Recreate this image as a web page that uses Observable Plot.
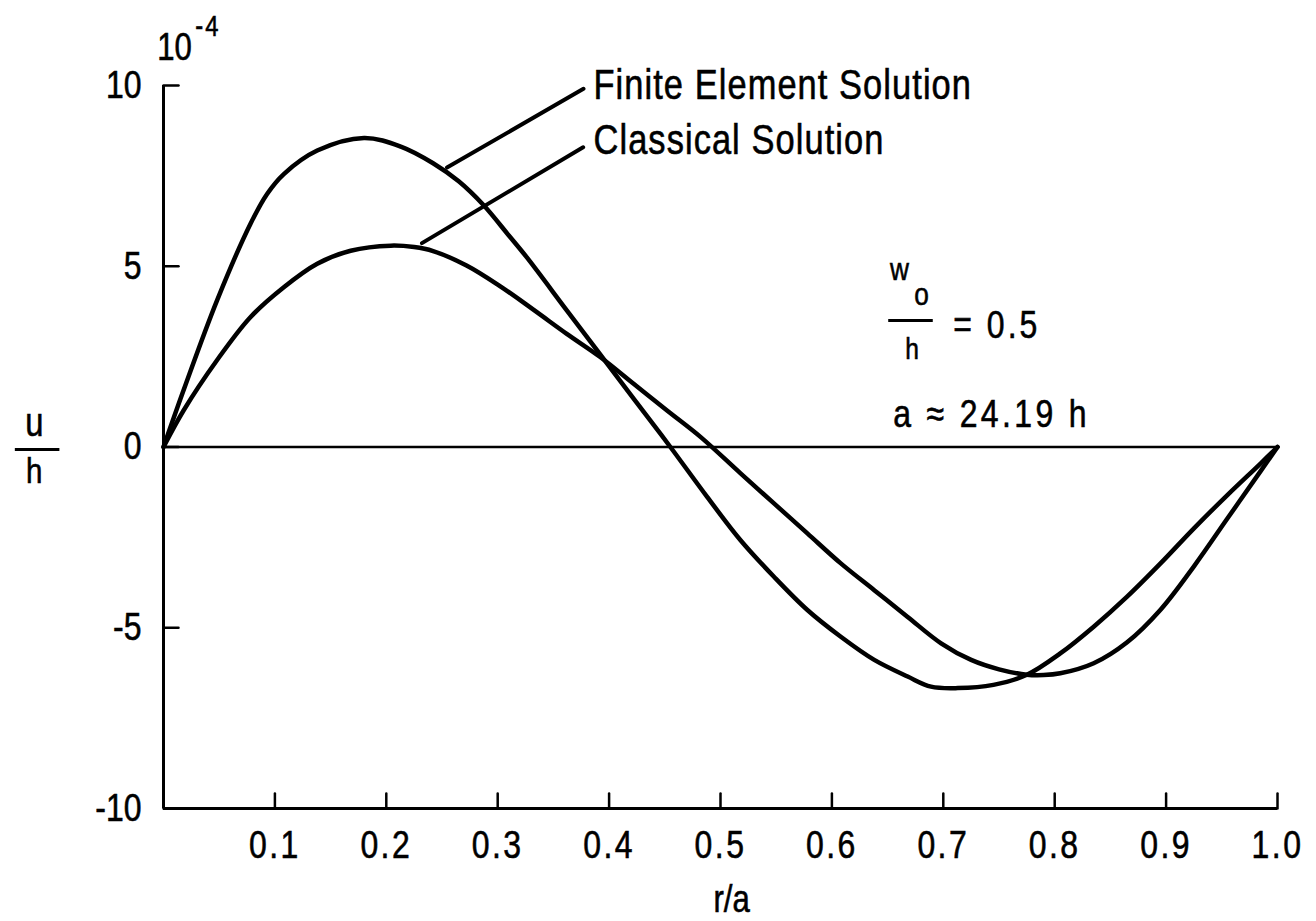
<!DOCTYPE html>
<html>
<head>
<meta charset="utf-8">
<script src="https://cdn.jsdelivr.net/npm/d3@7"></script>
<script src="https://cdn.jsdelivr.net/npm/@observablehq/plot@0.6"></script>
<style>
  html, body { margin: 0; padding: 0; background: #fff; }
</style>
</head>
<body>
<div id="chart"></div>
<script>
// ---- data (u/h in units of 1e-4 versus r/a) ----
const feX = [0, 0.018, 0.048, 0.078, 0.093, 0.108, 0.138, 0.180, 0.213, 0.242, 0.265, 0.287, 0.310, 0.326, 0.362, 0.392, 0.422, 0.455, 0.488, 0.518, 0.548, 0.578, 0.608, 0.638, 0.668, 0.689, 0.713, 0.745, 0.775, 0.805, 0.835, 0.865, 0.895, 0.925, 0.955, 0.985, 1.0];
const feY = [0, 1.57, 4.05, 6.17, 7.0, 7.55, 8.2, 8.55, 8.31, 7.85, 7.35, 6.7, 5.85, 5.25, 3.78, 2.56, 1.34, 0, -1.38, -2.58, -3.59, -4.51, -5.25, -5.89, -6.35, -6.63, -6.67, -6.58, -6.3, -5.71, -4.97, -4.14, -3.22, -2.25, -1.33, -0.45, 0];

const clX = [0, 0.018, 0.048, 0.078, 0.108, 0.138, 0.168, 0.204, 0.225, 0.242, 0.272, 0.302, 0.332, 0.362, 0.392, 0.422, 0.452, 0.482, 0.518, 0.548, 0.578, 0.608, 0.638, 0.668, 0.698, 0.725, 0.750, 0.775, 0.790, 0.805, 0.835, 0.865, 0.895, 0.925, 0.955, 0.985, 1.0];
const clY = [0, 1.01, 2.4, 3.59, 4.42, 5.07, 5.43, 5.57, 5.53, 5.42, 5.02, 4.45, 3.8, 3.13, 2.49, 1.75, 1.01, 0.28, -0.73, -1.56, -2.39, -3.22, -3.96, -4.70, -5.43, -5.89, -6.15, -6.3, -6.31, -6.26, -5.98, -5.4, -4.5, -3.3, -1.98, -0.66, 0];

const xTicks = [0.1, 0.2, 0.3, 0.4, 0.5, 0.6, 0.7, 0.8, 0.9, 1.0];
const yTicks = [10, 5, 0, -5, -10];
const seriesNames = ["Finite Element Solution", "Classical Solution"];

// ---- tables built from the arrays ----
const feData = feX.map((x, i) => ({x, y: feY[i]}));
const clData = clX.map((x, i) => ({x, y: clY[i]}));

// annotation anchors (data units)
const leaders = [
  {x1: 0.2545, y1: 7.73, x2: 0.377, y2: 9.91},
  {x1: 0.232, y1: 5.64, x2: 0.3767, y2: 8.29}
];

const FONT = '"Liberation Sans", Arial, sans-serif';
const NARROW = 0.82; // condensed look of the original typeface
const tickShape = {draw(context, l) { context.moveTo(0, 0); context.lineTo(0, -l); }};

const plot = Plot.plot({
  width: 1316,
  height: 921,
  marginLeft: 163,
  marginRight: 39,
  marginTop: 85,
  marginBottom: 113,
  style: {fontFamily: FONT, background: "white", color: "black", overflow: "visible"},
  x: {domain: [0, 1], label: null},
  y: {domain: [-10, 10], label: null},
  marks: [
    Plot.axisX(xTicks, {tickSize: 0, tickPadding: 22, fontSize: 39, tickFormat: d => d.toFixed(1), label: null}),
    Plot.axisY(yTicks, {tickSize: 0, tickPadding: 22, fontSize: 39, tickFormat: d => String(d), label: null}),
    Plot.ruleY([-10], {x1: 0, x2: 1, strokeWidth: 3}),
    Plot.ruleX([0], {y1: -10, y2: 10, strokeWidth: 3}),
    Plot.ruleY([0], {x1: 0, x2: 1, strokeWidth: 2.5}),
    Plot.vector(xTicks, {x: d => d, y: -10, length: 15, rotate: 0, anchor: "start", shape: tickShape, strokeWidth: 2.5}),
    Plot.vector(yTicks, {x: 0, y: d => d, length: 15, rotate: 90, anchor: "start", shape: tickShape, strokeWidth: 2.5}),
    Plot.line(feData, {x: "x", y: "y", curve: "catmull-rom", strokeWidth: 4.5}),
    Plot.line(clData, {x: "x", y: "y", curve: "catmull-rom", strokeWidth: 4.5}),
    Plot.link(leaders, {x1: "x1", y1: "y1", x2: "x2", y2: "y2", strokeWidth: 4, strokeLinecap: "round"}),
    Plot.text([seriesNames[0]], {x: 0.386, y: 10.01, text: d => d, textAnchor: "start", lineAnchor: "middle", fontSize: 42}),
    Plot.text([seriesNames[1]], {x: 0.386, y: 8.49, text: d => d, textAnchor: "start", lineAnchor: "middle", fontSize: 42}),
    // 10^-4 exponent marker
    Plot.text(["10"], {x: -0.0056, y: 11.03, text: d => d, textAnchor: "start", fontSize: 38}),
    Plot.text(["-4"], {x: 0.0285, y: 11.62, text: d => d, textAnchor: "start", fontSize: 29}),
    // u/h axis label
    Plot.text(["u"], {x: -0.116, y: 0.67, text: d => d, fontSize: 40}),
    Plot.ruleY([-0.07], {x1: -0.133, x2: -0.093, strokeWidth: 3}),
    Plot.text(["h"], {x: -0.116, y: -0.69, text: d => d, fontSize: 36}),
    // r/a axis label
    Plot.text(["r/a"], {x: 0.51, y: -12.54, text: d => d, fontSize: 38}),
    // w_o/h = 0.5
    Plot.text(["w"], {x: 0.6607, y: 4.89, text: d => d, fontSize: 32}),
    Plot.text(["o"], {x: 0.6805, y: 4.20, text: d => d, fontSize: 32}),
    Plot.ruleY([3.50], {x1: 0.651, x2: 0.691, strokeWidth: 3}),
    Plot.text(["h"], {x: 0.672, y: 2.71, text: d => d, fontSize: 30}),
    Plot.text(["= 0.5"], {x: 0.7089, y: 3.35, text: d => d, textAnchor: "start", fontSize: 39}),
    Plot.text(["a \u2248 24.19 h"], {x: 0.655, y: 0.885, text: d => d, textAnchor: "start", fontSize: 39})
  ]
});

// extra letter spacing (px, before condensing) to match the typewritten spacing
const spacing = new Map([
  [seriesNames[0], 1.3], [seriesNames[1], 1.3],
  ["= 0.5", 3.7], ["a \u2248 24.19 h", 4.1], ["-4", 2.5]
]);
xTicks.forEach(t => spacing.set(t.toFixed(1), 3));

// condense every text horizontally around its own anchor, and darken it slightly
d3.select(plot).selectAll("text").each(function () {
  const t = this.getAttribute("transform") || "";
  this.setAttribute("transform", `${t} scale(${NARROW},1)`);
  const ls = spacing.get(this.textContent);
  if (ls) this.style.letterSpacing = ls + "px";
  this.style.stroke = "black";
  this.style.strokeWidth = "0.6px";
});

document.getElementById("chart").appendChild(plot);
</script>
</body>
</html>
